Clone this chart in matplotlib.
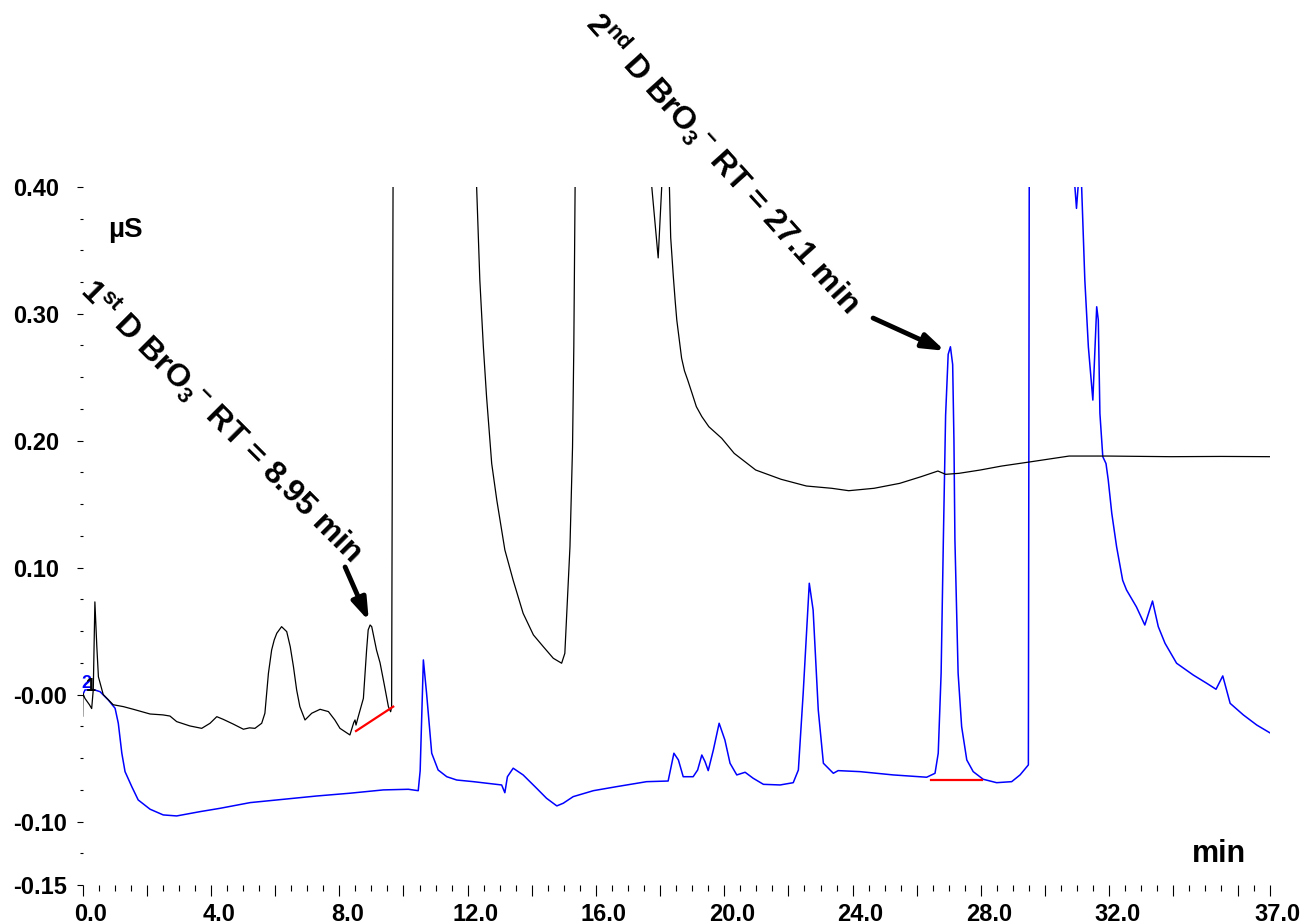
import numpy as np
import matplotlib
matplotlib.use('Agg')
import matplotlib.pyplot as plt
from matplotlib.transforms import ScaledTranslation

plt.rcParams['font.family'] = ['Liberation Sans', 'DejaVu Sans']
plt.rcParams['mathtext.fontset'] = 'custom'
plt.rcParams['mathtext.rm'] = 'Liberation Sans:bold'
plt.rcParams['mathtext.bf'] = 'Liberation Sans:bold'
plt.rcParams['mathtext.default'] = 'regular'

# ---------------- data ----------------
# 1st dimension trace (black)
time_1d = [0.0, 0.005, 0.07, 0.21, 0.28, 0.33, 0.38, 0.44, 0.49, 0.64, 0.95, 1.27, 1.58,
           2.10, 2.50, 2.72, 2.93, 3.34, 3.71, 3.97, 4.18, 4.38, 4.69, 5.01, 5.20, 5.37,
           5.58, 5.68, 5.79, 5.89, 5.97, 6.05, 6.20, 6.36, 6.47, 6.57, 6.67, 6.77, 6.93,
           7.14, 7.40, 7.66, 7.86, 8.02, 8.33, 8.45, 8.49, 8.52, 8.59, 8.75, 8.85, 8.90,
           8.96, 9.01, 9.16, 9.27, 9.40, 9.53, 9.60, 9.63, 9.68, 12.27, 12.28, 12.38,
           12.49, 12.59, 12.75, 12.91, 13.16, 13.42, 13.73, 14.05, 14.36, 14.67, 14.93,
           15.03, 15.19, 15.27, 15.31, 15.35, 15.37, 17.72, 17.74, 17.94, 18.05, 18.07,
           18.27, 18.29, 18.33, 18.41, 18.47, 18.52, 18.60, 18.67, 18.76, 18.86, 19.00,
           19.13, 19.30, 19.52, 19.92, 20.31, 20.98, 21.77, 22.56, 23.35, 23.88, 24.67,
           25.47, 26.13, 26.66, 26.90, 27.32, 27.98, 28.64, 29.56, 30.75, 31.94, 33.92,
           35.50, 37.00]
signal_1d = [-0.017, 0.001, -0.003, -0.008, -0.011, 0.004, 0.073, 0.038, 0.014, 0.000,
             -0.008, -0.0095, -0.0116, -0.0153, -0.016, -0.0169, -0.0213, -0.0247, -0.0266,
             -0.0226, -0.0174, -0.0195, -0.0232, -0.0273, -0.0262, -0.0266, -0.0226, -0.0147,
             0.0168, 0.0351, 0.043, 0.0483, 0.0535, 0.0496, 0.0377, 0.022, 0.0036, -0.0095,
             -0.020, -0.0147, -0.0116, -0.0134, -0.020, -0.0266, -0.0318, -0.022, -0.020,
             -0.024, -0.0174, -0.003, 0.035, 0.051, 0.0548, 0.0535, 0.035, 0.025, 0.008,
             -0.0095, -0.0135, -0.0095, 0.45, 0.45, 0.40, 0.3265, 0.274, 0.2346, 0.182,
             0.153, 0.114, 0.090, 0.064, 0.047, 0.0377, 0.0286, 0.0247, 0.0325, 0.1165,
             0.195, 0.274, 0.40, 0.45, 0.45, 0.40, 0.344, 0.40, 0.45, 0.45, 0.40, 0.36,
             0.33, 0.31, 0.295, 0.279, 0.265, 0.255, 0.2478, 0.237, 0.2268, 0.219, 0.211,
             0.2019, 0.190, 0.1769, 0.1696, 0.1643, 0.1625, 0.1606, 0.1625, 0.1664, 0.1716,
             0.1761, 0.1735, 0.1743, 0.1769, 0.180, 0.1834, 0.1879, 0.1879, 0.1874, 0.1876,
             0.1874]

# 2nd dimension trace (blue)
time_2d = [0.0, 0.07, 0.33, 0.54, 0.80, 1.01, 1.11, 1.22, 1.32, 1.53, 1.73, 2.10, 2.51,
           2.93, 3.66, 4.28, 5.22, 6.25, 7.29, 8.33, 9.37, 10.15, 10.46, 10.52, 10.62,
           10.72, 10.88, 11.08, 11.35, 11.66, 12.18, 12.80, 13.06, 13.16, 13.24, 13.42,
           13.73, 14.15, 14.46, 14.78, 14.98, 15.29, 15.92, 16.65, 17.58, 18.25, 18.43,
           18.57, 18.72, 19.03, 19.17, 19.30, 19.40, 19.50, 19.66, 19.84, 20.02, 20.18,
           20.39, 20.65, 20.90, 21.22, 21.74, 22.15, 22.31, 22.46, 22.65, 22.77, 22.93,
           23.09, 23.40, 23.55, 24.23, 25.27, 26.31, 26.57, 26.67, 26.76, 26.83, 26.90,
           26.98, 27.05, 27.12, 27.16, 27.19, 27.29, 27.40, 27.56, 27.76, 28.07, 28.49,
           28.96, 29.22, 29.48, 29.51, 30.90, 30.93, 30.98, 31.03, 31.05, 31.12, 31.14,
           31.24, 31.35, 31.49, 31.61, 31.66, 31.71, 31.80, 31.90, 31.97, 32.08, 32.23,
           32.42, 32.54, 32.85, 33.11, 33.35, 33.53, 33.74, 34.10, 34.62, 35.04, 35.33,
           35.54, 35.77, 36.18, 36.60, 36.93, 37.00]
signal_2d = [-0.0003, 0.0036, 0.004, 0.0023, -0.0043, -0.0108, -0.0226, -0.0462, -0.0607,
             -0.0725, -0.083, -0.0903, -0.0948, -0.0956, -0.0922, -0.0896, -0.0851, -0.0825,
             -0.0799, -0.0777, -0.0751, -0.0746, -0.0757, -0.060, 0.0273, 0.001, -0.0462,
             -0.0594, -0.0647, -0.0673, -0.0686, -0.0704, -0.0712, -0.0773, -0.0647, -0.058,
             -0.0633, -0.0738, -0.0817, -0.0877, -0.0856, -0.0804, -0.0757, -0.0725, -0.0686,
             -0.0681, -0.0462, -0.0515, -0.0647, -0.0647, -0.0594, -0.0476, -0.0528, -0.0599,
             -0.0436, -0.0226, -0.0358, -0.0541, -0.0633, -0.0612, -0.0659, -0.0707, -0.0712,
             -0.0694, -0.0594, 0.001, 0.0877, 0.0666, -0.0121, -0.0541, -0.062, -0.0599,
             -0.0607, -0.0633, -0.0651, -0.062, -0.0462, 0.0168, 0.122, 0.22, 0.268, 0.274,
             0.26, 0.20, 0.122, 0.0168, -0.0253, -0.0515, -0.0607, -0.0667, -0.0694, -0.0686,
             -0.0633, -0.0554, 0.45, 0.45, 0.40, 0.383, 0.40, 0.45, 0.45, 0.40, 0.3265, 0.274,
             0.232, 0.3055, 0.295, 0.2215, 0.1874, 0.182, 0.169, 0.1428, 0.1165, 0.090,
             0.0824, 0.069, 0.0548, 0.0737, 0.0535, 0.0404, 0.0247, 0.0154, 0.0089, 0.0042,
             0.0147, -0.0069, -0.016, -0.024, -0.029, -0.030]

# integration baselines (red)
base1_t = [8.52, 9.68]
base1_s = [-0.0287, -0.0095]
base2_t = [26.46, 28.02]
base2_s = [-0.0673, -0.0673]

# axis ticks / labels
x_major = [0, 2, 4, 6, 8, 10, 12, 14, 16, 18, 20, 22, 24, 26, 28, 30, 32, 34, 36, 37]
x_labels = ['0.0', '', '4.0', '', '8.0', '', '12.0', '', '16.0', '', '20.0', '', '24.0',
            '', '28.0', '', '32.0', '', '', '37.0']
y_major = [-0.15, -0.10, 0.0, 0.10, 0.20, 0.30, 0.40]
y_labels = ['-0.15', '-0.10', '-0.00', '0.10', '0.20', '0.30', '0.40']

# ---------------- figure ----------------
fig = plt.figure(figsize=(13.06, 9.24), dpi=100)
ax = fig.add_axes([0.06332, 0.04221, 0.90881, 0.75563])

ax.plot(time_2d, signal_2d, color='#0000ff', lw=1.1, zorder=2)
ax.plot(time_1d, signal_1d, color='black', lw=0.9, zorder=3)
ax.plot(base1_t, base1_s, color='red', lw=1.6, zorder=4)
ax.plot(base2_t, base2_s, color='red', lw=1.6, zorder=4)

ax.set_xlim(0, 37)
ax.set_ylim(-0.15, 0.40)
for sp in ax.spines.values():
    sp.set_visible(False)

ax.set_xticks(x_major)
ax.set_xticks(np.arange(0, 37.01, 0.5), minor=True)
ax.set_xticklabels(x_labels, fontsize=17, fontweight='bold')
ax.set_yticks(y_major)
ax.set_yticks(np.arange(-0.15, 0.4001, 0.025), minor=True)
ax.set_yticklabels(y_labels, fontsize=17, fontweight='bold', ha='left')

ax.tick_params(axis='x', which='major', direction='out', length=8, width=0.8, pad=5)
ax.tick_params(axis='x', which='minor', direction='out', length=4, width=0.8)
ax.tick_params(axis='y', which='major', direction='out', length=4.3, width=0.8, pad=45.9)
ax.tick_params(axis='y', which='minor', direction='out', length=2.2, width=0.8)

off = ScaledTranslation(8 / 100, 0, fig.dpi_scale_trans)
for lab in ax.get_xticklabels():
    lab.set_transform(lab.get_transform() + off)

# unit labels
ax.text(0.79, 0.3607, 'µS', fontsize=20, fontweight='bold', ha='left', va='baseline')
ax.text(34.57, -0.1316, 'min', fontsize=22, fontweight='bold', ha='left', va='baseline')

# trace numbers
ax.text(0.13, 0.009, '2', color='#0000ff', fontsize=13, fontweight='bold',
        ha='center', va='center', zorder=5)
ax.text(0.24, 0.006, '1', color='black', fontsize=13, fontweight='bold',
        ha='center', va='center', zorder=6)

# annotations
ax.text(4.34, 0.2155,
        r'1$^{\mathregular{st}}$ D BrO$_{\mathregular{3}}$$^{\mathregular{-}}$ RT = 8.95 min',
        fontsize=23, fontweight='bold', rotation=-45, rotation_mode='anchor',
        ha='center', va='center', clip_on=False)
ax.text(19.96, 0.4188,
        r'2$^{\mathregular{nd}}$ D BrO$_{\mathregular{3}}$$^{\mathregular{-}}$ RT = 27.1 min',
        fontsize=23, fontweight='bold', rotation=-47.9, rotation_mode='anchor',
        ha='center', va='center', clip_on=False)

arrow = dict(arrowstyle='-|>,head_length=0.65,head_width=0.22', lw=3.5, color='black',
             mutation_scale=20, shrinkA=0, shrinkB=0)
ax.annotate('', xy=(8.92, 0.058), xytext=(8.18, 0.1005), arrowprops=arrow)
ax.annotate('', xy=(26.88, 0.2708), xytext=(24.64, 0.2966), arrowprops=arrow)

fig.savefig('out.png', dpi=100)
